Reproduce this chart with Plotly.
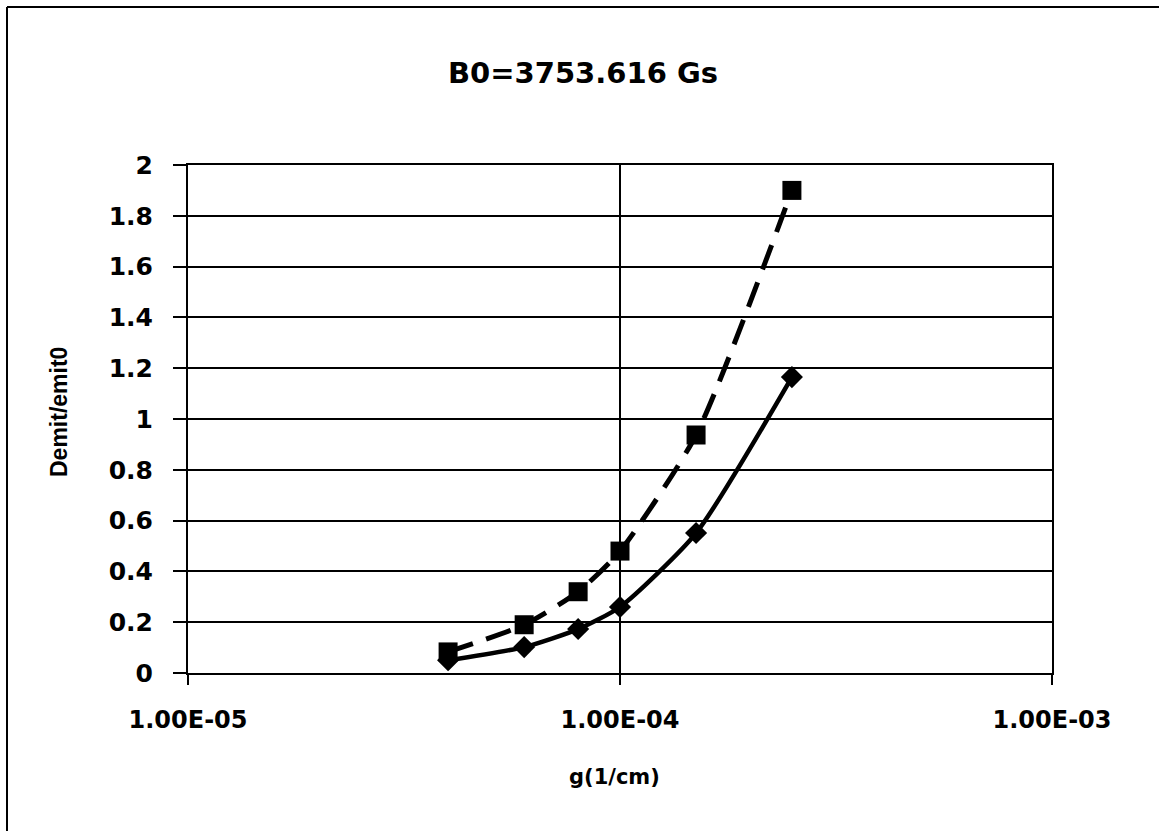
import plotly.graph_objects as go

g_values = [4e-5, 6e-5, 8e-5, 1e-4, 1.5e-4, 2.5e-4]
series_diamond = [0.05, 0.102, 0.173, 0.26, 0.551, 1.165]
series_square = [0.083, 0.19, 0.32, 0.48, 0.937, 1.90]
x_tickvals = [1e-5, 1e-4, 1e-3]
x_ticktext = ["1.00E-05", "1.00E-04", "1.00E-03"]
y_tickvals = [0, 0.2, 0.4, 0.6, 0.8, 1, 1.2, 1.4, 1.6, 1.8, 2]
y_ticktext = ["0", "0.2", "0.4", "0.6", "0.8", "1", "1.2", "1.4", "1.6", "1.8", "2"]

WIDE = "DejaVu Sans, sans-serif"
NARROW = "Liberation Sans, Arial, sans-serif"

fig = go.Figure()
fig.add_trace(go.Scatter(
    x=g_values, y=series_square, mode="lines+markers",
    line=dict(color="black", width=5, dash="26px,14px", shape="spline", smoothing=0.6),
    marker=dict(symbol="square", size=19, color="black"),
    showlegend=False, cliponaxis=False,
))
fig.add_trace(go.Scatter(
    x=g_values, y=series_diamond, mode="lines+markers",
    line=dict(color="black", width=4.5, shape="spline", smoothing=0.6),
    marker=dict(symbol="diamond", size=17, color="black"),
    showlegend=False, cliponaxis=False,
))

L, R, T, B = 188, 107, 165, 158
W, H = 1159, 831
px = lambda p: (p - L) / (W - L - R)
py = lambda p: (H - B - p) / (H - T - B)

fig.update_layout(
    width=W, height=H,
    margin=dict(l=L, r=R, t=T, b=B),
    paper_bgcolor="white", plot_bgcolor="white",
    title=dict(text="<b>B0=3753.616 Gs</b>", x=583 / W, xanchor="center",
               y=1 - 73 / H, yanchor="middle",
               font=dict(family=WIDE, size=29, color="black")),
    font=dict(family=WIDE, color="black"),
    xaxis=dict(
        type="log", range=[-5, -3], tickvals=x_tickvals, ticktext=x_ticktext,
        ticks="outside", ticklen=10, tickwidth=1.5, tickcolor="black",
        showgrid=True, gridcolor="black", gridwidth=1.5,
        showline=True, linecolor="black", linewidth=2, mirror=True,
        zeroline=False, ticklabelstandoff=14,
        tickfont=dict(family=WIDE, size=24, color="black", weight="bold"),
    ),
    yaxis=dict(
        range=[0, 2], tickvals=y_tickvals, ticktext=y_ticktext,
        ticks="outside", ticklen=13, tickwidth=1.5, tickcolor="black",
        showgrid=True, gridcolor="black", gridwidth=1.5,
        showline=True, linecolor="black", linewidth=2, mirror=True,
        zeroline=False, ticklabelstandoff=15,
        tickfont=dict(family=WIDE, size=25, color="black", weight="bold"),
    ),
    annotations=[
        dict(text="<b>g(1/cm)</b>", xref="paper", yref="paper",
             x=px(614), y=py(777), xanchor="center", yanchor="middle",
             showarrow=False, font=dict(family=WIDE, size=21, color="black")),
        dict(text="<b>Demit/emit0</b>", xref="paper", yref="paper",
             x=px(59), y=py(412), xanchor="center", yanchor="middle",
             textangle=-90, showarrow=False,
             font=dict(family=NARROW, size=23, color="black")),
    ],
)

# outer frame (top and left edges visible in reference)
fig.add_shape(type="line", xref="paper", yref="paper",
              x0=px(7), y0=py(7), x1=px(1159), y1=py(7),
              line=dict(color="black", width=2))
fig.add_shape(type="line", xref="paper", yref="paper",
              x0=px(7), y0=py(7), x1=px(7), y1=py(831),
              line=dict(color="black", width=2))

fig.write_html("out.html")
